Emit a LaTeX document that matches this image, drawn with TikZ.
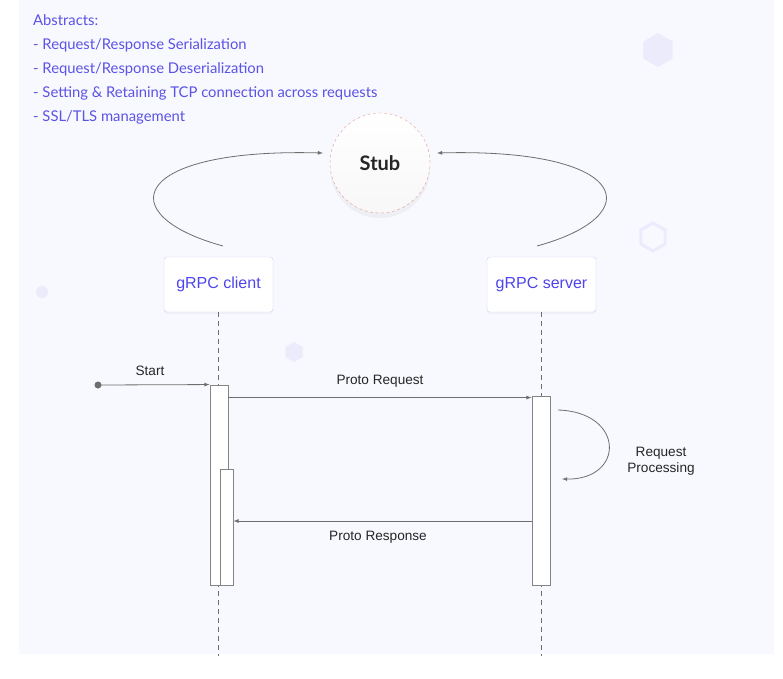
\documentclass[tikz,border=0pt]{standalone}
\usepackage{fontspec}
\setmainfont{Liberation Sans}
\newfontfamily\latofont{Lato}
\usetikzlibrary{shadows}

\definecolor{panel}{HTML}{F8F9FE}
\definecolor{abstxt}{HTML}{5B52E6}
\definecolor{hosttxt}{HTML}{4F45EC}
\definecolor{hostline}{HTML}{D0CDF7}
\definecolor{linegray}{HTML}{6E6E6E}
\definecolor{stubline}{HTML}{E59C96}
\definecolor{deco}{HTML}{ECEBFC}

\tikzset{
  hostbox/.style={draw=hostline, fill=white, rounded corners=3pt,
    minimum width=109pt, minimum height=55pt, text=hosttxt,
    font=\fontsize{16}{19}\selectfont,
    drop shadow={opacity=0.05, shadow xshift=0pt, shadow yshift=-2pt}},
  actbox/.style={draw=linegray!85, fill=white, inner sep=0pt, line width=0.9pt},
  msg/.style={draw=linegray, line width=0.8pt, ->, >=latex},
  lifeline/.style={draw=linegray, dash pattern=on 5pt off 4pt, line width=0.8pt},
  lbl/.style={font=\fontsize{13.6}{16}\selectfont, text=black!85, inner sep=0pt},
}

\begin{document}
\begin{tikzpicture}[x=1pt, y=-1pt]
  \useasboundingbox (0,0) rectangle (783,678);
  \fill[panel] (19,0) rectangle (774,654);
  % faint background shapes
  \fill[deco] (658,50) +(90:17) -- +(150:17) -- +(210:17) -- +(270:17)
    -- +(330:17) -- +(30:17) -- cycle;
  \draw[deco, line width=3pt] (653,237) +(90:14) -- +(150:14) -- +(210:14)
    -- +(270:14) -- +(330:14) -- +(30:14) -- cycle;
  \fill[deco] (294,352) +(90:10) -- +(150:10) -- +(210:10) -- +(270:10)
    -- +(330:10) -- +(30:10) -- cycle;
  \fill[deco] (42,292) circle (6);
  % abstracts
  \foreach \t [count=\i from 0] in {Abstracts:, - Request/Response Serialization,
    - Request/Response Deserialization,
    - Setting \& Retaining TCP connection across requests, - SSL/TLS management}
  {
    \node[anchor=base west, inner sep=0pt, text=abstxt,
      font=\latofont\fontsize{14.8}{18}\selectfont] (abs\i) at (33,25+24.2*\i) {\t};
  }
  % stub and hosts
  \node[circle, minimum size=100pt, draw=stubline, dash pattern=on 3pt off 2.5pt,
    top color=white, bottom color=black!3,
    drop shadow={opacity=0.08, shadow xshift=0pt, shadow yshift=-5pt},
    font=\latofont\bfseries\fontsize{20}{24}\selectfont, text=black!85]
    (stub) at (380,163) {Stub};
  \node[hostbox] (client) at (218.5,284.5) {gRPC client};
  \node[hostbox] (server) at (541.5,284.5) {gRPC server};
  \coordinate (cl) at (223,246);
  \coordinate (sl) at (537,246);
  \coordinate (stubL) at (323,153);
  \coordinate (stubR) at (437,153);
  \draw[msg] (cl) .. controls (110,215) and (130,148) .. (stubL);
  \draw[msg] (sl) .. controls (650,215) and (630,148) .. (stubR);
  % lifelines
  \coordinate (cend) at (218.5,656);
  \coordinate (send) at (541.5,656);
  \draw[lifeline] (client.south) -- (cend);
  \draw[lifeline] (server.south) -- (send);
  % activations
  \node[actbox, minimum width=18pt, minimum height=200pt] (cact) at (219,485) {};
  \node[actbox, minimum width=13pt, minimum height=116pt] (creply) at (226.5,527) {};
  \node[actbox, minimum width=18pt, minimum height=189pt] (sact) at (541,490.5) {};
  % messages
  \coordinate (startpt) at (98,385);
  \fill[linegray] (startpt) circle (3.5);
  \draw[msg] (startpt) -- (cact.north west);
  \node[lbl] (startlbl) at (150,371) {Start};
  \path (cact.north east) ++(0,13) coordinate (req);
  \draw[msg] (req) -- (req -| sact.west);
  \node[lbl] (reqlbl) at (380,381) {Proto Request};
  \coordinate (loopa) at (558,410);
  \coordinate (loopb) at (562,479);
  \draw[msg] (loopa) .. controls +(67,2) and +(63,1) .. (loopb);
  \node[lbl, align=center] (proclbl) at (661,461) {Request\\Processing};
  \coordinate (resp) at (541,521);
  \draw[msg] (resp -| sact.west) -- (resp -| creply.east);
  \node[lbl] (resplbl) at (378,537) {Proto Response};
\end{tikzpicture}
\end{document}
